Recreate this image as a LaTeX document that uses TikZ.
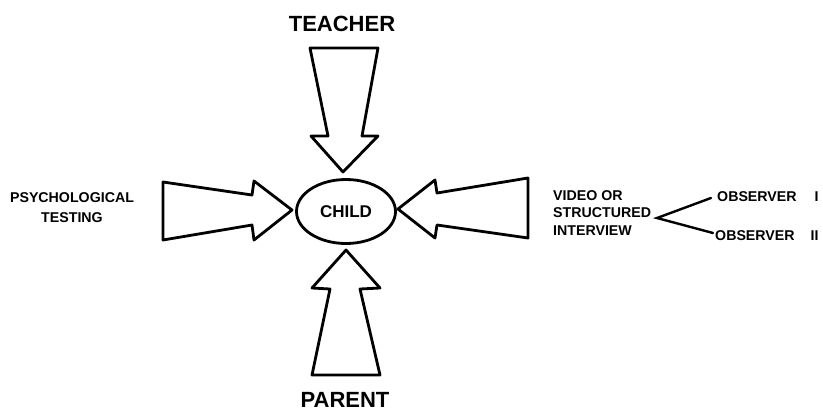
\documentclass[tikz,border=0pt]{standalone}
\usepackage{fontspec}
\setmainfont{Liberation Sans}
\usetikzlibrary{shapes.geometric,calc}
\tikzset{
  bigarrow/.style={draw=black, line width=2.8pt, line join=round, fill=white},
  biglabel/.style={font=\fontsize{22}{24}\selectfont\bfseries, inner sep=0pt},
  smalllabel/.style={font=\fontsize{14.2}{17.5}\selectfont\bfseries, inner sep=0pt},
  branch/.style={draw=black, line width=2.4pt, line cap=round},
}
\begin{document}
\begin{tikzpicture}[x=1pt,y=-1pt]
\useasboundingbox (0,0) rectangle (823,413);
% central node
\node[ellipse, draw, line width=2.8pt, minimum width=99pt, minimum height=64pt, inner sep=0pt,
      font=\fontsize{17}{19}\selectfont\bfseries] (child) at (346,211.5) {CHILD};
% block arrows
\draw[bigarrow] (310,48) -- (378,48) -- (362,136) -- (378,136) -- (343,172) -- (311,136) -- (328,136) -- cycle;
\draw[bigarrow] (346,250) -- (380,288) -- (360,289) -- (380,375) -- (312,375) -- (330,289) -- (312,288) -- cycle;
\draw[bigarrow] (163,182) -- (252,195) -- (254,181) -- (292,210) -- (254,240) -- (252,225) -- (163,240) -- cycle;
\draw[bigarrow] (398,209) -- (435,180) -- (437,193) -- (528,178) -- (528,238) -- (437,225) -- (435,238) -- cycle;
% labels
\node[biglabel] (teacher) at (342,24) {TEACHER};
\node[biglabel] (parent) at (345,400) {PARENT};
\node[smalllabel, align=center, font=\fontsize{14.2}{20}\selectfont\bfseries] (psych) at (72,208) {PSYCHOLOGICAL\\TESTING};
\node[smalllabel, align=left, anchor=west] (video) at (553,213) {VIDEO OR\\STRUCTURED\\INTERVIEW};
\node[smalllabel, anchor=west] (obs1) at (717,197) {OBSERVER\hspace{18pt}I};
\node[smalllabel, anchor=west] (obs2) at (715,236) {OBSERVER\hspace{16pt}II};
% branches
\coordinate (fork) at (657,218);
\draw[branch] ($(obs1.west)+(-6,1)$) -- (fork) -- ($(obs2.west)+(-2,-3)$);
\end{tikzpicture}
\end{document}
